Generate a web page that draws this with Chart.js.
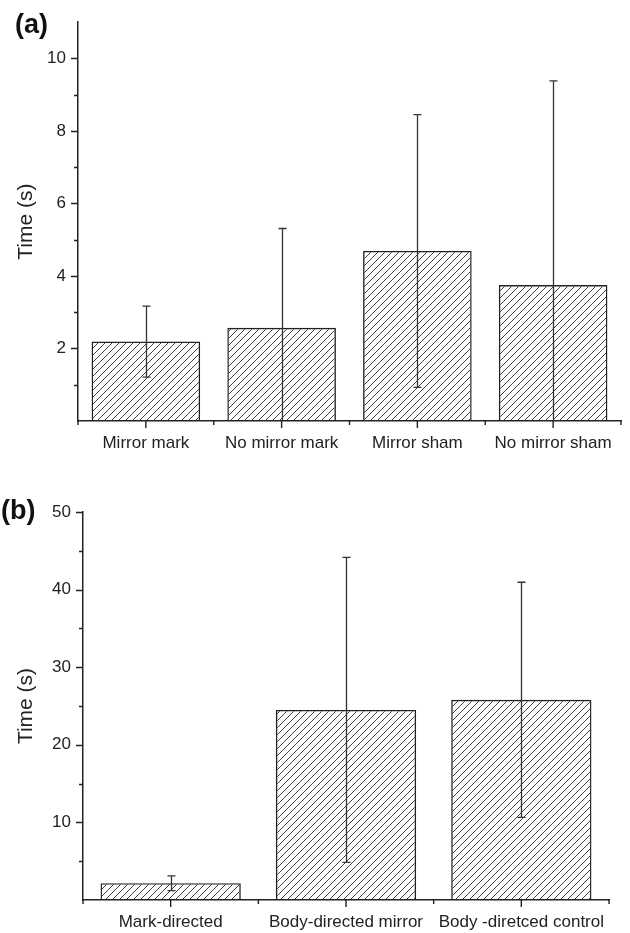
<!DOCTYPE html>
<html>
<head>
<meta charset="utf-8">
<script src="https://cdn.jsdelivr.net/npm/chart.js@4/dist/chart.umd.min.js"></script>
<style>
  body { margin: 0; background: #fff; }
  .panel { position: absolute; left: 0; }
</style>
</head>
<body>
<canvas id="chartA" class="panel" style="top:0" width="630" height="466"></canvas>
<canvas id="chartB" class="panel" style="top:466px" width="630" height="467"></canvas>
<script>
// panel (a)
const catsA = ["Mirror mark", "No mirror mark", "Mirror sham", "No mirror sham"];
const meanA = [2.19, 2.57, 4.69, 3.75];
const errA = [0.98, 2.74, 3.76, 5.63];
const yMajorA = [2, 4, 6, 8, 10];
const yMinorA = [1, 3, 5, 7, 9];

// panel (b)
const catsB = ["Mark-directed", "Body-directed mirror", "Body -diretced control"];
const meanB = [2.17, 24.5, 25.8];
const errB = [0.95, 19.65, 15.15];
const yMajorB = [10, 20, 30, 40, 50];
const yMinorB = [5, 15, 25, 35, 45];

const FONT = "'Liberation Sans', Arial, sans-serif";
const INK = "#222";

function hatchPattern(ctx) {
  const s = 7;
  const c = document.createElement("canvas");
  c.width = s; c.height = s;
  const g = c.getContext("2d");
  g.strokeStyle = "#2a2a2a";
  g.lineWidth = 0.9;
  g.beginPath();
  g.moveTo(0, s); g.lineTo(s, 0);
  g.moveTo(-1, 1); g.lineTo(1, -1);
  g.moveTo(s - 1, s + 1); g.lineTo(s + 1, s - 1);
  g.stroke();
  return ctx.createPattern(c, "repeat");
}

// error bars, axis ticks and panel letter
const extras = {
  id: "extras",
  afterDatasetsDraw(chart, args, opts) {
    const ctx = chart.ctx;
    const ys = chart.scales.y;
    const area = chart.chartArea;
    const meta = chart.getDatasetMeta(0);
    ctx.save();
    ctx.beginPath();
    ctx.rect(area.left, area.top - 2, area.right - area.left, area.bottom - area.top + 2);
    ctx.clip();
    ctx.strokeStyle = "#333";
    ctx.lineWidth = 1.3;
    meta.data.forEach((bar, i) => {
      const m = opts.means[i], e = opts.errs[i];
      const yt = ys.getPixelForValue(m + e);
      const lo = m - e;
      const yb = ys.getPixelForValue(Math.max(lo, 0));
      const x = Math.round(bar.x) + 0.5;
      ctx.beginPath();
      ctx.moveTo(x, yt); ctx.lineTo(x, yb);
      ctx.moveTo(x - 4, yt); ctx.lineTo(x + 4, yt);
      if (lo > 0) { ctx.moveTo(x - 4, yb); ctx.lineTo(x + 4, yb); }
      ctx.stroke();
    });
    ctx.restore();
  },
  afterDraw(chart, args, opts) {
    const ctx = chart.ctx;
    const ys = chart.scales.y;
    const xs = chart.scales.x;
    const area = chart.chartArea;
    ctx.save();
    ctx.strokeStyle = INK;
    ctx.lineWidth = 1.4;
    ctx.beginPath();
    opts.major.forEach(v => {
      const y = Math.round(ys.getPixelForValue(v)) + 0.5;
      ctx.moveTo(area.left, y); ctx.lineTo(area.left - 7, y);
    });
    opts.minor.forEach(v => {
      const y = Math.round(ys.getPixelForValue(v)) + 0.5;
      ctx.moveTo(area.left, y); ctx.lineTo(area.left - 4, y);
    });
    const n = opts.means.length;
    const w = (area.right - area.left) / n;
    for (let i = 0; i < n; i++) {
      const x = xs.getPixelForValue(i);
      ctx.moveTo(x, area.bottom); ctx.lineTo(x, area.bottom + 7);
    }
    for (let i = 0; i <= n; i++) {
      const x = area.left + i * w;
      ctx.moveTo(x, area.bottom); ctx.lineTo(x, area.bottom + 4);
    }
    ctx.stroke();
    ctx.fillStyle = "#111";
    ctx.font = "bold 27px " + FONT;
    ctx.textBaseline = "middle";
    ctx.fillText(opts.letter, opts.lx, opts.ly);
    ctx.restore();
  }
};

function makeChart(id, cats, means, errs, major, minor, yMax, box, letter) {
  const canvas = document.getElementById(id);
  const ctx = canvas.getContext("2d");
  return new Chart(canvas, {
    type: "bar",
    data: {
      labels: cats,
      datasets: [{
        data: means,
        backgroundColor: hatchPattern(ctx),
        borderColor: "#222",
        borderWidth: 1.4,
        barPercentage: 0.8,
        categoryPercentage: 1.0,
      }],
    },
    options: {
      responsive: false,
      animation: false,
      layout: { padding: { top: box.top, right: box.right, left: 0, bottom: 0 } },
      plugins: {
        legend: { display: false },
        tooltip: { enabled: false },
        extras: { means, errs, major, minor, letter: letter.text, lx: letter.x, ly: letter.y },
      },
      scales: {
        x: {
          afterFit(s) { s.height = box.xh; },
          grid: { display: true, drawOnChartArea: false, drawTicks: false },
          border: { color: INK, width: 1.5 },
          ticks: {
            autoSkip: false, maxRotation: 0, padding: 12,
            color: "#222", font: { family: FONT, size: 17 },
          },
        },
        y: {
          min: 0,
          max: yMax,
          afterFit(s) { s.width = box.yw; },
          afterBuildTicks(s) { s.ticks = major.map(v => ({ value: v })); },
          grid: { display: true, drawOnChartArea: false, drawTicks: false },
          border: { color: INK, width: 1.5 },
          ticks: {
            padding: 12, color: "#222", font: { family: FONT, size: 17 },
          },
          title: {
            display: true, text: "Time (s)", color: "#222",
            font: { family: FONT, size: 21 }, padding: { top: 14, bottom: 0 },
          },
        },
      },
    },
    plugins: [extras],
  });
}

makeChart("chartA", catsA, meanA, errA, yMajorA, yMinorA, 11,
  { top: 21, right: 9, xh: 45, yw: 78 }, { text: "(a)", x: 15, y: 26 });
makeChart("chartB", catsB, meanB, errB, yMajorB, yMinorB, 50,
  { top: 46, right: 21, xh: 33, yw: 83 }, { text: "(b)", x: 1, y: 46 });
</script>
</body>
</html>
